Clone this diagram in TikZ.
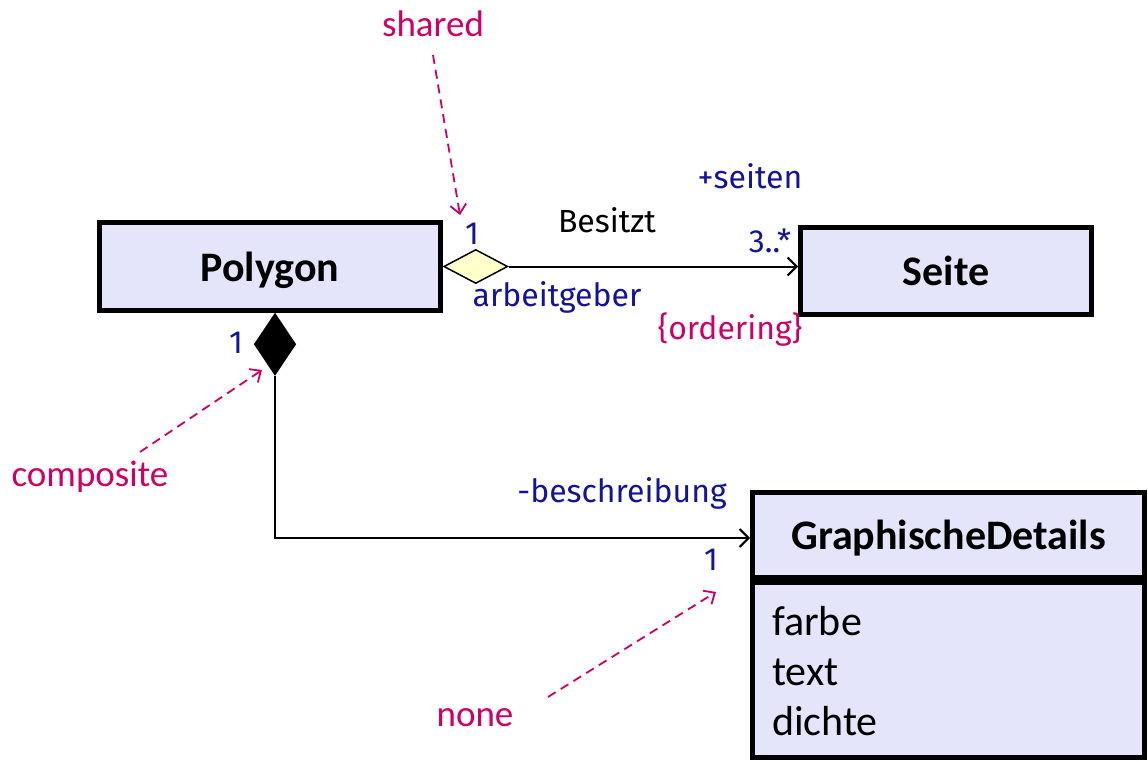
\documentclass[tikz,border=0pt]{standalone}
\usepackage{fontspec}
\setmainfont{Carlito}
\newfontfamily\comic{Fira Sans}
\usetikzlibrary{shapes.geometric,arrows.meta}
\definecolor{boxfill}{HTML}{E4E4FA}
\definecolor{dblue}{HTML}{14149A}
\definecolor{mag}{HTML}{CC0066}
\definecolor{dfill}{HTML}{FFFFCC}
\begin{document}
\begin{tikzpicture}[x=1pt,y=-1pt,
  classbox/.style={draw=black,line width=5pt,fill=boxfill,inner sep=0pt,text depth=0pt,font=\fontsize{42}{48}\selectfont\bfseries},
  attrbox/.style={draw=black,line width=5pt,fill=boxfill,inner sep=0pt},
  assoc/.style={line width=2pt,-{Straight Barb[length=9pt,width=18pt,line width=2pt]}},
  note/.style={draw=mag,line width=1.8pt,dash pattern=on 9pt off 6pt,-{Straight Barb[length=9pt,width=16pt,line width=1.8pt]}},
  role/.style={text=dblue,font=\comic\fontsize{32}{36}\selectfont,inner sep=0pt},
  blk/.style={text=black,font=\comic\fontsize{32}{36}\selectfont,inner sep=0pt},
  mlabel/.style={text=mag,font=\fontsize{37}{42}\selectfont,inner sep=0pt}]
\useasboundingbox (0,0) rectangle (1148,762);
% classes
\node[classbox,minimum width=341pt,minimum height=88pt] (poly) at (270,266.5) {Polygon};
\node[classbox,minimum width=291pt,minimum height=87pt] (seite) at (946,271) {Seite};
\node[classbox,minimum width=392pt,minimum height=85pt] (gdh) at (948.5,535) {GraphischeDetails};
\node[attrbox,minimum width=392pt,minimum height=175pt,anchor=north] (gda) at (gdh.south) {};
\node[anchor=north west,inner sep=0pt,align=left,font=\fontsize{42}{50}\selectfont] (attrs) at (772,606) {farbe\\text\\dichte};
% diamonds
\node[diamond,draw=black,line width=1.5pt,fill=dfill,minimum width=64pt,minimum height=34pt,inner sep=0pt,anchor=west,aspect=1.9] (hd) at (poly.east) {};
\node[diamond,draw=black,line width=1.5pt,fill=black,minimum width=41pt,minimum height=61pt,inner sep=0pt,anchor=north,aspect=0.67] (fd) at ([xshift=5pt]poly.south) {};
% connectors
\draw[assoc] (hd.east) -- (hd.east -| seite.west);
\draw[assoc] (fd.south) |- ([yshift=-3pt]gdh.west);
% labels
\node[role] (m1) at (472,234) {1};
\node[blk] (bes) at (607,220) {Besitzt};
\node[role] (seiten) at (750,176) {+seiten};
\node[role] (m3) at (770,241) {3..*};
\node[role] (arb) at (557,297) {arbeitgeber};
\node[role,text=mag] (ord) at (730,330) {\{ordering\}};
\node[role] (m2) at (236,343) {1};
\node[role] (besch) at (622,493) {-beschreibung};
\node[role] (m4) at (711,560) {1};
% notes
\node[mlabel] (shared) at (433,24) {shared};
\node[mlabel] (comp) at (90,477) {composite};
\node[mlabel] (none) at (475,718) {none};
\coordinate (s1) at (433,55);
\coordinate (s2) at (460,215);
\coordinate (c1) at (140,452);
\coordinate (c2) at (262,370);
\coordinate (n1) at (548,697);
\coordinate (n2) at (716,592);
\draw[note] (s1) -- (s2);
\draw[note] (c1) -- (c2);
\draw[note] (n1) -- (n2);
\end{tikzpicture}
\end{document}
